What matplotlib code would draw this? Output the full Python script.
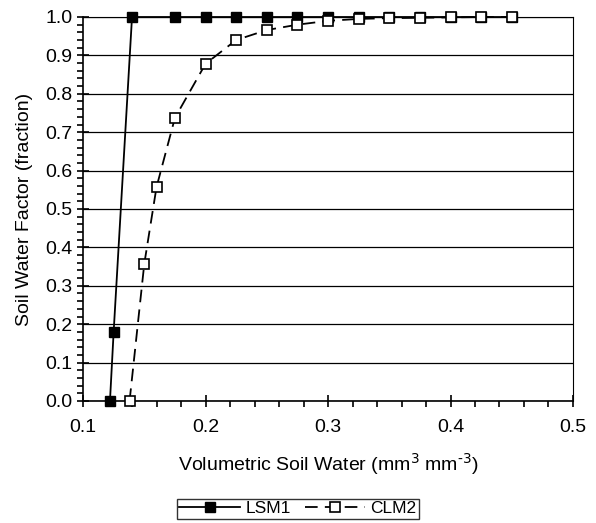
import matplotlib
matplotlib.use("Agg")
import matplotlib.pyplot as plt
from matplotlib.ticker import MultipleLocator

plt.rcParams['font.family'] = ['Liberation Sans', 'DejaVu Sans']

lsm1_x = [0.122, 0.125, 0.14, 0.175, 0.2, 0.225, 0.25, 0.275, 0.3, 0.325, 0.35, 0.375, 0.4, 0.425, 0.45]
lsm1_y = [0.0, 0.18, 1.0, 1.0, 1.0, 1.0, 1.0, 1.0, 1.0, 1.0, 1.0, 1.0, 1.0, 1.0, 1.0]
clm2_x = [0.138, 0.15, 0.16, 0.175, 0.2, 0.225, 0.25, 0.275, 0.3, 0.325, 0.35, 0.375, 0.4, 0.425, 0.45]
clm2_y = [0.0, 0.357, 0.557, 0.737, 0.878, 0.94, 0.966, 0.98, 0.99, 0.995, 0.997, 0.998, 0.999, 1.0, 1.0]

fig = plt.figure(figsize=(5.96, 5.23), dpi=100)
ax = fig.add_axes([0.1393, 0.2333, 0.8221, 0.7342])

ax.plot(lsm1_x, lsm1_y, color='black', lw=1.3, marker='s', ms=7.5,
        mfc='black', mec='black', label='LSM1', zorder=3, clip_on=False)
ax.plot(clm2_x, clm2_y, color='black', lw=1.3, ls=(0, (7, 4)), marker='s', ms=7.5,
        mfc='white', mec='black', mew=1.2, label='CLM2', zorder=4, clip_on=False)

ax.set_xlim(0.1, 0.5)
ax.set_ylim(0.0, 1.0)
ax.xaxis.set_major_locator(MultipleLocator(0.1))
ax.xaxis.set_minor_locator(MultipleLocator(0.02))
ax.yaxis.set_major_locator(MultipleLocator(0.1))
ax.yaxis.set_minor_locator(MultipleLocator(0.02))
ax.xaxis.set_major_formatter(matplotlib.ticker.FormatStrFormatter('%.1f'))
ax.yaxis.set_major_formatter(matplotlib.ticker.FormatStrFormatter('%.1f'))
ax.grid(axis='y', which='major', color='black', lw=0.9)
ax.set_axisbelow(True)
ax.tick_params(axis='both', which='major', direction='inout', length=8, width=1.2, labelsize=14, color='black')
ax.tick_params(axis='both', which='minor', direction='out', length=4, width=1.2)
ax.tick_params(axis='x', which='major', pad=9)
for s in ax.spines.values():
    s.set_linewidth(1.2)
ax.spines['top'].set_linewidth(0.8)
ax.spines['right'].set_linewidth(0.8)

ax.set_xlabel('Volumetric Soil Water (mm$^{\\text{3}}$ mm$^{\\text{-3}}$)', fontsize=14, labelpad=11)
ax.set_ylabel('Soil Water Factor (fraction)', fontsize=14, labelpad=9)

leg = fig.legend(loc='center', bbox_to_anchor=(0.5, 0.027), ncol=2, fontsize=12.5,
                 frameon=True, fancybox=False, edgecolor='black', handlelength=3.5,
                 columnspacing=0.8, handletextpad=0.3, borderpad=0.15)
leg.get_frame().set_linewidth(1.0)

fig.savefig('out.png', dpi=100)
